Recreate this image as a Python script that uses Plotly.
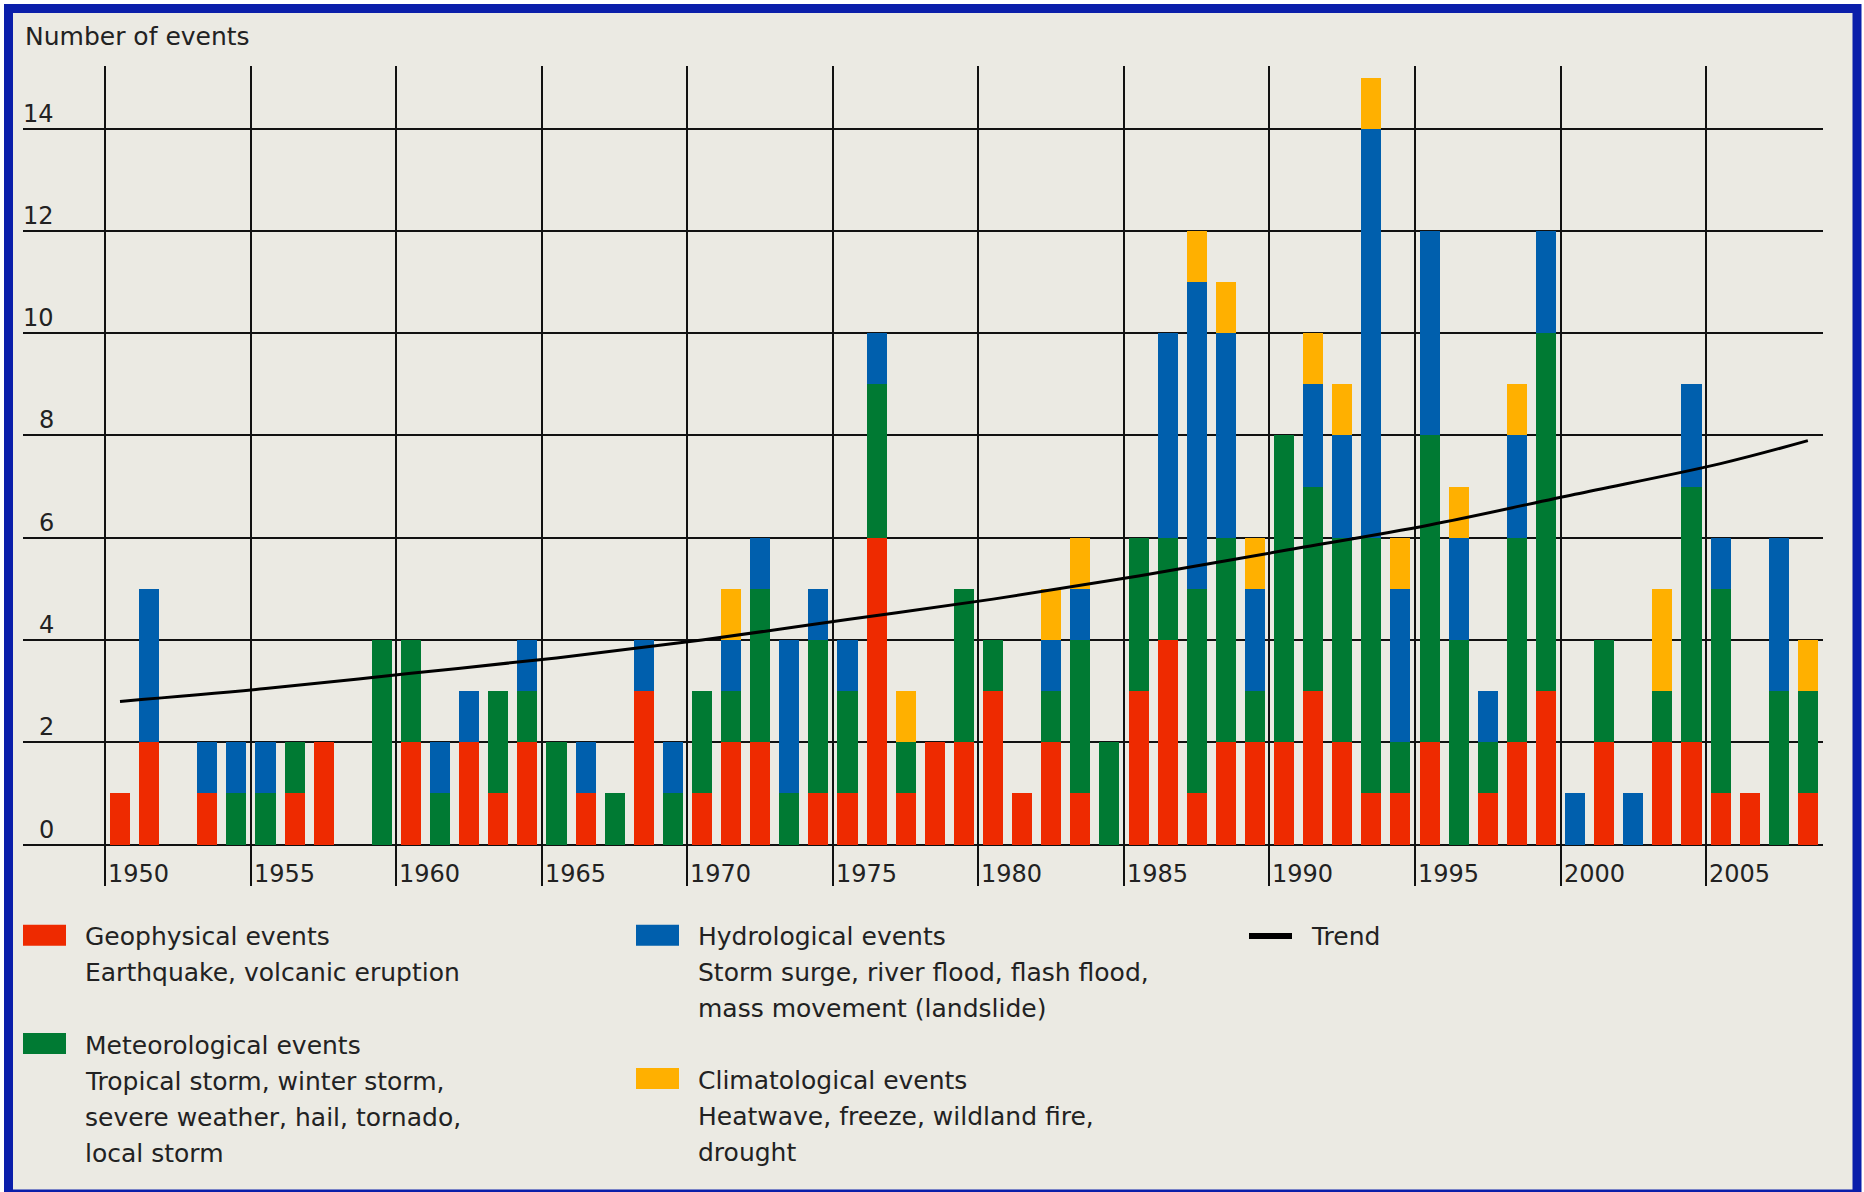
import plotly.graph_objects as go

# ---------------- data ----------------
years = list(range(1950, 2009))
geophysical = [1, 2, 0, 1, 0, 0, 1, 2, 0, 0,
               2, 0, 2, 1, 2, 0, 1, 0, 3, 0,
               1, 2, 2, 0, 1, 1, 6, 1, 2, 2,
               3, 1, 2, 1, 0, 3, 4, 1, 2, 2,
               2, 3, 2, 1, 1, 2, 0, 1, 2, 3,
               0, 2, 0, 2, 2, 1, 1, 0, 1]
meteorological = [0, 0, 0, 0, 1, 1, 1, 0, 0, 4,
                  2, 1, 0, 2, 1, 2, 0, 1, 0, 1,
                  2, 1, 3, 1, 3, 2, 3, 1, 0, 3,
                  1, 0, 1, 3, 2, 3, 2, 4, 4, 1,
                  6, 4, 4, 5, 1, 6, 4, 1, 4, 7,
                  0, 2, 0, 1, 5, 4, 0, 3, 2]
hydrological = [0, 3, 0, 1, 1, 1, 0, 0, 0, 0,
                0, 1, 1, 0, 1, 0, 1, 0, 1, 1,
                0, 1, 1, 3, 1, 1, 1, 0, 0, 0,
                0, 0, 1, 1, 0, 0, 4, 6, 4, 2,
                0, 2, 2, 8, 3, 4, 2, 1, 2, 2,
                1, 0, 1, 0, 2, 1, 0, 3, 0]
climatological = [0, 0, 0, 0, 0, 0, 0, 0, 0, 0,
                  0, 0, 0, 0, 0, 0, 0, 0, 0, 0,
                  0, 1, 0, 0, 0, 0, 0, 1, 0, 0,
                  0, 0, 1, 1, 0, 0, 0, 1, 1, 1,
                  0, 1, 1, 1, 1, 0, 1, 0, 1, 0,
                  0, 0, 0, 2, 0, 0, 0, 0, 1]

trend_years = [1950, 1955, 1960, 1965, 1970, 1975, 1980, 1985, 1990, 1995, 2000, 2005, 2008]
trend_values = [2.8, 3.05, 3.35, 3.65, 4.0, 4.4, 4.8, 5.25, 5.75, 6.25, 6.85, 7.45, 7.9]

year_tick_labels = ["1950", "1955", "1960", "1965", "1970", "1975",
                    "1980", "1985", "1990", "1995", "2000", "2005"]
y_tick_values = [0, 2, 4, 6, 8, 10, 12, 14]

series_names = ["Geophysical events", "Meteorological events",
                "Hydrological events", "Climatological events"]
series_desc = [["Earthquake, volcanic eruption"],
               ["Tropical storm, winter storm,", "severe weather, hail, tornado,", "local storm"],
               ["Storm surge, river flood, flash flood,", "mass movement (landslide)"],
               ["Heatwave, freeze, wildland fire,", "drought"]]
trend_name = "Trend"
y_title = "Number of events"

# ---------------- style ----------------
COLORS = ["#EE2A00", "#007A33", "#005FAD", "#FFB000"]
BEIGE = "#EBEAE3"
FRAME = "#0A1EAA"
GRID = "#111111"
TXT = "#222222"
FONT = "DejaVu Sans"

W, H = 1864, 1192
ML, MR, MT, MB = 23, 41, 66, 306
PW, PH = W - ML - MR, H - MT - MB


def px(xp):
    return (xp - ML) / PW


def py(yp):
    return (H - MB - yp) / PH


fig = go.Figure()
series = [geophysical, meteorological, hydrological, climatological]
for name, vals, col in zip(series_names, series, COLORS):
    fig.add_trace(go.Bar(x=years, y=vals, name=name, marker=dict(color=col, line=dict(width=0)),
                         width=0.69, showlegend=False))

fig.add_trace(go.Scatter(x=trend_years, y=trend_values, mode="lines", name=trend_name,
                         line=dict(color="black", width=3, shape="spline"), showlegend=False))

year_tickvals = [int(t) - 0.5 for t in year_tick_labels]

shapes = [dict(type="rect", xref="paper", yref="paper",
               x0=px(8.5), x1=px(1857), y0=py(8.5), y1=py(1194),
               line=dict(color=FRAME, width=9), fillcolor=BEIGE, layer="below")]

annotations = []
annotations.append(dict(xref="paper", yref="paper", x=px(23), y=py(37), xanchor="left", yanchor="middle",
                        text=y_title, showarrow=False, font=dict(family=FONT, size=25, color=TXT)))
for tv, lab in zip(year_tickvals, year_tick_labels):
    annotations.append(dict(xref="x", yref="paper", x=tv, y=py(874), xanchor="left", yanchor="middle",
                            xshift=1, text=lab, showarrow=False, font=dict(family=FONT, size=24, color=TXT)))
for v in y_tick_values:
    annotations.append(dict(xref="paper", yref="y", x=px(56), y=v, xanchor="right", yanchor="middle",
                            yshift=15, text=str(v), showarrow=False, font=dict(family=FONT, size=24, color=TXT)))

# custom legend
legend_slots = [(23, 86, 945.7), (23, 86, 1054), (636, 699, 945.7), (636, 699, 1089)]
for (sx, tx, base), name, desc, col in zip(legend_slots, series_names, series_desc, COLORS):
    shapes.append(dict(type="rect", xref="paper", yref="paper", x0=px(sx), x1=px(sx + 43),
                       y0=py(base - 21), y1=py(base), line=dict(width=0), fillcolor=col))
    lines = [name] + desc
    for i, t in enumerate(lines):
        b = base + i * 36
        annotations.append(dict(xref="paper", yref="paper", x=px(tx - 3), y=py(b - 9), xanchor="left",
                                yanchor="middle", text=t, showarrow=False,
                                font=dict(family=FONT, size=25, color=TXT)))
shapes.append(dict(type="line", xref="paper", yref="paper", x0=px(1249), x1=px(1292),
                   y0=py(936), y1=py(936), line=dict(color="black", width=6)))
annotations.append(dict(xref="paper", yref="paper", x=px(1309), y=py(945.7 - 9), xanchor="left",
                        yanchor="middle", text=trend_name, showarrow=False,
                        font=dict(family=FONT, size=25, color=TXT)))

fig.update_layout(
    width=W, height=H, margin=dict(l=ML, r=MR, t=MT, b=MB, pad=0),
    paper_bgcolor="white", plot_bgcolor="rgba(0,0,0,0)",
    barmode="stack", bargap=0.31,
    shapes=shapes, annotations=annotations,
    font=dict(family=FONT, color=TXT),
    xaxis=dict(range=[1946.667, 2008.52], tickvals=year_tickvals, showticklabels=False,
               showgrid=True, gridcolor=GRID, gridwidth=2, zeroline=False, showline=False, ticks=""),
    yaxis=dict(range=[-0.81, 15.225], tickvals=y_tick_values, showticklabels=False,
               showgrid=True, gridcolor=GRID, gridwidth=2, zeroline=False, showline=False, ticks=""),
)

fig.write_html("out.html", config={"displayModeBar": False},
               post_script="document.body.style.margin='0';document.body.style.overflow='hidden';")
